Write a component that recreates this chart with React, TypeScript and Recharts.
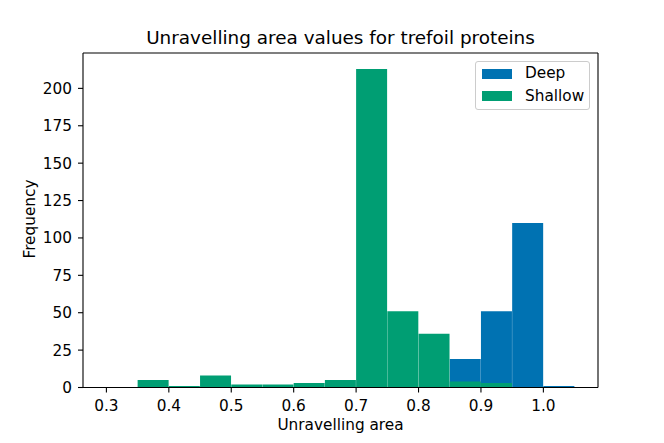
import React from 'react';
import { BarChart, Bar, XAxis, YAxis, Legend } from 'recharts';

const binStarts = [0.3, 0.35, 0.4, 0.45, 0.5, 0.55, 0.6, 0.65, 0.7, 0.75, 0.8, 0.85, 0.9, 0.95, 1.0];
const binWidth = 0.05;
const deepCounts = [0, 0, 0, 0, 0, 0, 0, 0, 0, 0, 0, 19, 51, 110, 1];
const shallowCounts = [0, 5, 1, 8, 2, 2, 3, 5, 213, 51, 36, 4, 3, 0, 0];
const xTicks = [0.3, 0.4, 0.5, 0.6, 0.7, 0.8, 0.9, 1.0];
const yTicks = [0, 25, 50, 75, 100, 125, 150, 175, 200];
const seriesNames = { deep: 'Deep', shallow: 'Shallow' };

const data = binStarts.map((b, i) => ({ x: b + binWidth / 2, deep: deepCounts[i], shallow: shallowCounts[i] }));

const FONT = '"DejaVu Sans", sans-serif';
const W = 664;
const H = 443;
const M = { top: 52, right: 65, bottom: 0, left: 0 };
const XDOMAIN: [number, number] = [0.2625, 1.0875];
const YDOMAIN: [number, number] = [0, 223.65];
const FS = 15.3;

const tickStyle = { fontFamily: FONT, fontSize: FS, fill: '#000' };

const LegendBox = (props: any) => {
  const payload = props.payload || [];
  return (
    <div
      style={{
        width: 113,
        height: 47,
        border: '1px solid #cccccc',
        borderRadius: 3,
        background: 'rgba(255,255,255,0.8)',
        fontFamily: FONT,
        fontSize: FS,
        color: '#000',
        boxSizing: 'content-box',
        position: 'relative',
      }}
    >
      {payload.map((p: any, i: number) => (
        <div key={i} style={{ position: 'absolute', left: 6, top: 6 + i * 22.5, height: 11, display: 'flex', alignItems: 'center' }}>
          <span style={{ display: 'inline-block', width: 30, height: 10, background: p.color }} />
          <span style={{ marginLeft: 13, lineHeight: '11px', whiteSpace: 'nowrap' }}>{p.value}</span>
        </div>
      ))}
    </div>
  );
};

export default function App() {
  return (
    <div style={{ position: 'absolute', left: 0, top: 0, width: W, height: H, background: '#fff' }}>
      <BarChart width={W} height={H} data={data} margin={M} barCategoryGap={0} barGap={0}>
        <XAxis
          xAxisId="s"
          dataKey="x"
          type="number"
          domain={XDOMAIN}
          ticks={xTicks}
          allowDataOverflow
          height={55.5}
          tickSize={5}
          tickMargin={7.5}
          tick={tickStyle}
          tickFormatter={(v: number) => v.toFixed(1)}
          axisLine={{ stroke: '#000', strokeWidth: 1.1 }}
          tickLine={{ stroke: '#000', strokeWidth: 1.1 }}
        />
        <XAxis
          xAxisId="d"
          dataKey="x"
          type="number"
          orientation="top"
          domain={XDOMAIN}
          allowDataOverflow
          height={1}
          tick={false}
          tickLine={false}
          axisLine={{ stroke: '#000', strokeWidth: 1.1 }}
        />
        <YAxis
          yAxisId="y"
          type="number"
          domain={YDOMAIN}
          ticks={yTicks}
          allowDataOverflow
          width={83}
          tickSize={5}
          tickMargin={6}
          tick={tickStyle}
          axisLine={{ stroke: '#000', strokeWidth: 1.1 }}
          tickLine={{ stroke: '#000', strokeWidth: 1.1 }}
        />
        <YAxis
          yAxisId="r"
          type="number"
          orientation="right"
          domain={YDOMAIN}
          allowDataOverflow
          width={1}
          tick={false}
          tickLine={false}
          axisLine={{ stroke: '#000', strokeWidth: 1.1 }}
        />
        <Legend
          layout="vertical"
          align="center"
          verticalAlign="middle"
          content={LegendBox}
          wrapperStyle={{ position: 'absolute', left: 475, top: 61, width: 115, height: 49 }}
        />
        <Bar xAxisId="d" yAxisId="y" dataKey="deep" name={seriesNames.deep} fill="#0072B2" isAnimationActive={false} />
        <Bar xAxisId="s" yAxisId="r" dataKey="shallow" name={seriesNames.shallow} fill="#009E73" isAnimationActive={false} />
      </BarChart>
      <svg width={W} height={H} style={{ position: 'absolute', left: 0, top: 0, pointerEvents: 'none' }}>
        <text x={340.5} y={44} textAnchor="middle" fontFamily={FONT} fontSize={18.4} fill="#000">
          Unravelling area values for trefoil proteins
        </text>
        <text x={340.5} y={430} textAnchor="middle" fontFamily={FONT} fontSize={FS} fill="#000">
          Unravelling area
        </text>
        <text x={34.5} y={219} textAnchor="middle" fontFamily={FONT} fontSize={FS} fill="#000" transform="rotate(-90, 34.5, 219)">
          Frequency
        </text>
      </svg>
    </div>
  );
}
